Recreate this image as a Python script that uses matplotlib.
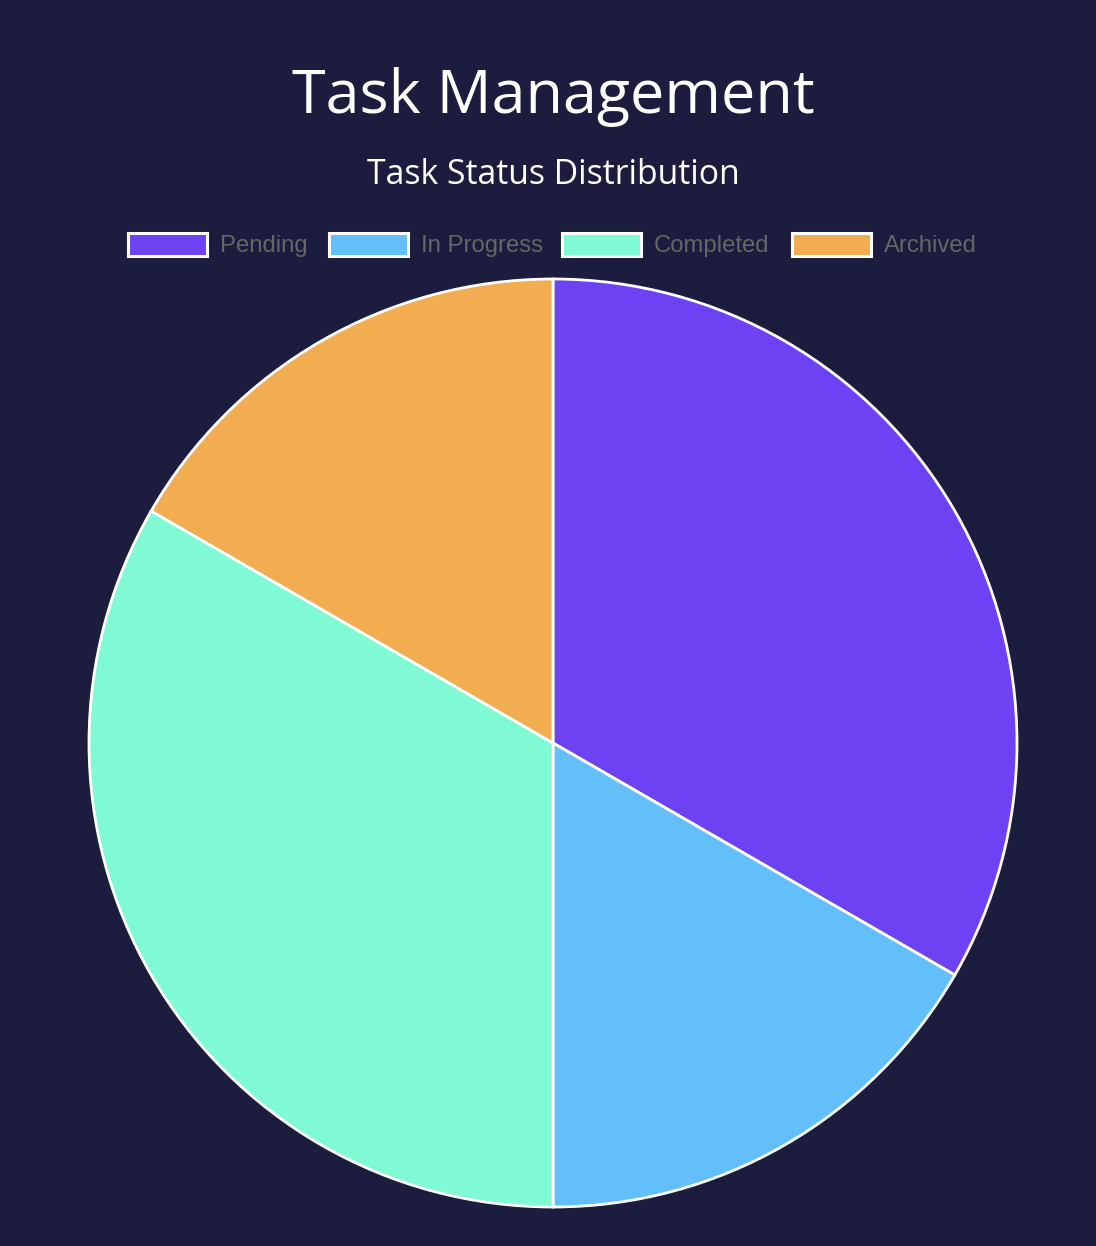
import matplotlib
matplotlib.use("Agg")
import matplotlib.pyplot as plt
from matplotlib.patches import Rectangle

labels = ["Pending", "In Progress", "Completed", "Archived"]
values = [10, 5, 10, 5]
colors = ["#6C42F3", "#62BFFA", "#7FFAD4", "#F2AD51"]
title = "Task Management"
subtitle = "Task Status Distribution"

W, H = 1096, 1246
bg = "#1C1C3F"
fig = plt.figure(figsize=(W / 100, H / 100), dpi=100, facecolor=bg)

# pie axes: center (553,743), radius 464 px
cx, cy, r = 553, 743, 464
ax = fig.add_axes([(cx - r) / W, (H - cy - r) / H, 2 * r / W, 2 * r / H])
ax.set_facecolor(bg)
wedges, _ = ax.pie(values, colors=colors, startangle=90, counterclock=False, radius=1,
                   wedgeprops=dict(edgecolor="white", linewidth=2.0))
for w in wedges:
    w.set_clip_on(False)
ax.set_xlim(-1.0, 1.0)
ax.set_ylim(-1.0, 1.0)
ax.set_aspect("equal")
ax.axis("off")

fig.text(553 / W, 1 - 97 / H, title, ha="center", va="center",
         fontsize=44, color="white", family=["Open Sans", "DejaVu Sans"])
fig.text(553 / W, 1 - 175 / H, subtitle, ha="center", va="center",
         fontsize=24.3, color="white", family=["Open Sans", "DejaVu Sans"])

# legend
box_x = [128, 329, 562, 792]
box_w, box_h = 79, 23
ly = 245
for x, lab, col in zip(box_x, labels, colors):
    fig.patches.append(Rectangle((x / W, 1 - (ly + box_h / 2) / H), box_w / W, box_h / H,
                                 transform=fig.transFigure, facecolor=col,
                                 edgecolor="white", linewidth=2.2))
    fig.text((x + box_w + 13) / W, 1 - (ly + 1) / H, lab, ha="left", va="center",
             fontsize=17.2, color="#666666", family=["Liberation Sans", "DejaVu Sans"])

fig.savefig("out.png", dpi=100, facecolor=bg)
